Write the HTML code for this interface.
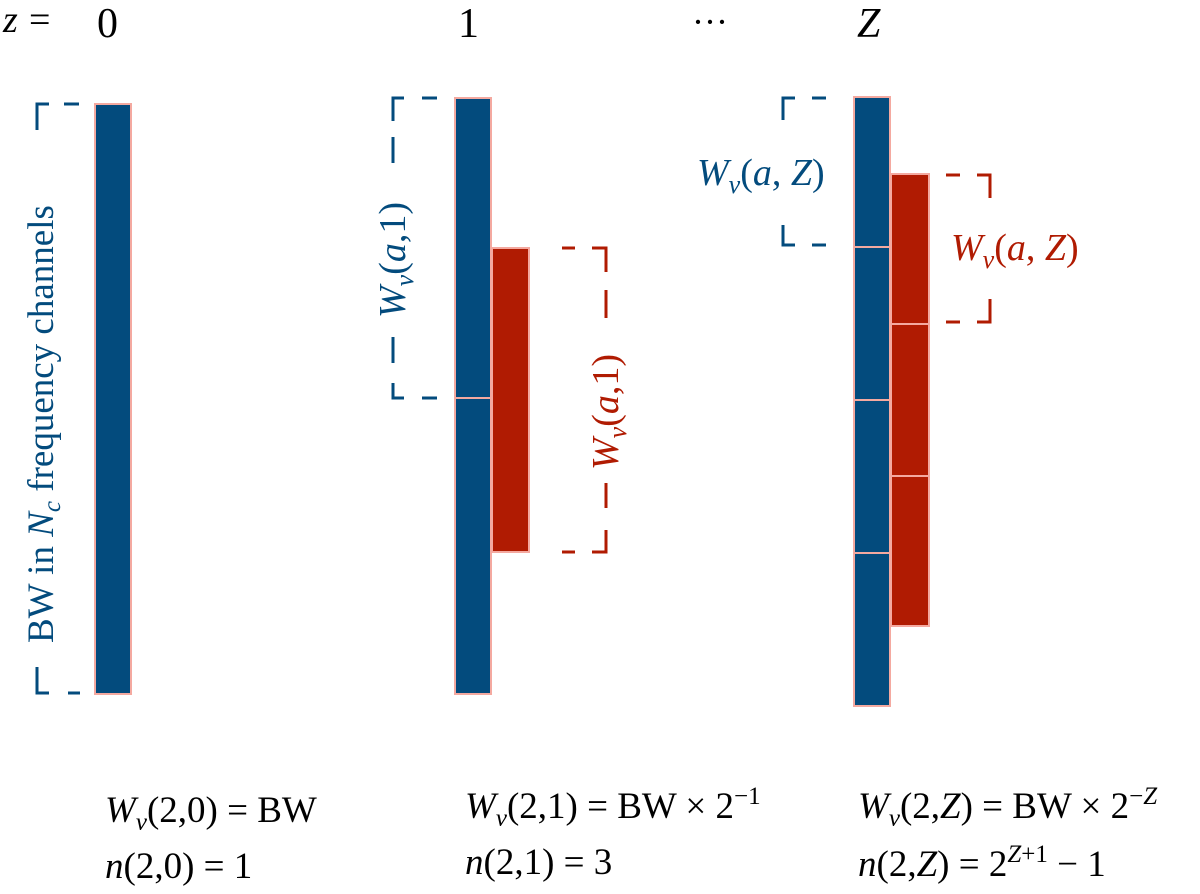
<!DOCTYPE html>
<html><head><style>
html,body{margin:0;padding:0;background:#fff;}
svg{display:block;}
text{font-family:"Liberation Serif",serif;}
</style></head><body>
<svg width="1200" height="894" viewBox="0 0 1200 894" xmlns="http://www.w3.org/2000/svg">
<text x="3" y="32" font-size="38" font-style="italic">z</text>
<text x="29" y="32" font-size="38">=</text>
<text x="97" y="37" font-size="42">0</text>
<text x="458" y="37" font-size="42">1</text>
<text x="692" y="34" font-size="36">···</text>
<text x="857" y="37" font-size="42" font-style="italic">Z</text>

<g stroke="#f4a9a0" stroke-width="2">
<rect x="95" y="104" width="36" height="590" fill="#034b7d"/>
<rect x="455" y="98" width="36" height="300" fill="#034b7d"/>
<rect x="455" y="398" width="36" height="296" fill="#034b7d"/>
<rect x="492" y="248" width="37" height="304" fill="#b01b02"/>
<rect x="854" y="97" width="36" height="150" fill="#034b7d"/>
<rect x="854" y="247" width="36" height="153" fill="#034b7d"/>
<rect x="854" y="400" width="36" height="153" fill="#034b7d"/>
<rect x="854" y="553" width="36" height="153" fill="#034b7d"/>
<rect x="891" y="174" width="38" height="150" fill="#b01b02"/>
<rect x="891" y="324" width="38" height="152" fill="#b01b02"/>
<rect x="891" y="476" width="38" height="150" fill="#b01b02"/>
</g>

<g fill="none" stroke-width="3">
<g stroke="#034b7d">
<path d="M49,104 H37 V130"/><path d="M64,104 H79"/>
<path d="M49,693 H37 V667"/><path d="M68,693 H80"/>
<path d="M404,98 H393 V121"/><path d="M422,98 H437"/>
<path d="M393,137 V163"/><path d="M393,337 V363"/>
<path d="M404,398 H393 V383"/><path d="M422,398 H437"/>
<path d="M795,98 H783 V120"/><path d="M812,98 H826"/>
<path d="M795,245 H783 V225"/><path d="M812,245 H826"/>
</g>
<g stroke="#b01b02">
<path d="M562,248 H575"/><path d="M592,248 H606 V272"/>
<path d="M606,290 V318"/><path d="M606,483 V508"/>
<path d="M562,552 H575"/><path d="M592,552 H606 V530"/>
<path d="M946,175 H960"/><path d="M977,175 H990 V198"/>
<path d="M946,322 H960"/><path d="M977,322 H990 V299"/>
</g>
</g>

<text transform="translate(53,643) rotate(-90)" font-size="37" fill="#034b7d">BW in <tspan font-style="italic">N</tspan><tspan font-style="italic" font-size="25" dy="7">c</tspan><tspan dy="-7"> frequency channels</tspan></text>

<text transform="translate(405,318) rotate(-90)" font-size="38" fill="#034b7d"><tspan font-style="italic">W</tspan><tspan font-style="italic" font-size="26" dy="8">ν</tspan><tspan dy="-8">(</tspan><tspan font-style="italic">a</tspan>,1)</text>

<text transform="translate(618,470) rotate(-90)" font-size="38" fill="#b01b02"><tspan font-style="italic">W</tspan><tspan font-style="italic" font-size="26" dy="8">ν</tspan><tspan dy="-8">(</tspan><tspan font-style="italic">a</tspan>,1)</text>

<text x="697" y="185" font-size="38" fill="#034b7d"><tspan font-style="italic">W</tspan><tspan font-style="italic" font-size="26" dy="8">ν</tspan><tspan dy="-8">(</tspan><tspan font-style="italic">a</tspan>, <tspan font-style="italic">Z</tspan>)</text>

<text x="951" y="260" font-size="38" fill="#b01b02"><tspan font-style="italic">W</tspan><tspan font-style="italic" font-size="26" dy="8">ν</tspan><tspan dy="-8">(</tspan><tspan font-style="italic">a</tspan>, <tspan font-style="italic">Z</tspan>)</text>

<g font-size="37" fill="#000">
<text x="105" y="822"><tspan font-style="italic">W</tspan><tspan font-style="italic" font-size="25" dy="8">ν</tspan><tspan dy="-8">(2,0) = BW</tspan></text>
<text x="105" y="878"><tspan font-style="italic">n</tspan>(2,0) = 1</text>
<text x="465" y="818"><tspan font-style="italic">W</tspan><tspan font-style="italic" font-size="25" dy="8">ν</tspan><tspan dy="-8">(2,1) = BW × 2</tspan><tspan font-size="25" dy="-14">−1</tspan></text>
<text x="465" y="874"><tspan font-style="italic">n</tspan>(2,1) = 3</text>
<text x="858" y="818"><tspan font-style="italic">W</tspan><tspan font-style="italic" font-size="25" dy="8">ν</tspan><tspan dy="-8">(2,</tspan><tspan font-style="italic">Z</tspan>) = BW × 2<tspan font-size="25" dy="-14">−</tspan><tspan font-size="25" font-style="italic">Z</tspan></text>
<text x="858" y="876"><tspan font-style="italic">n</tspan>(2,<tspan font-style="italic">Z</tspan>) = 2<tspan font-size="25" dy="-14" font-style="italic">Z</tspan><tspan font-size="25">+1</tspan><tspan dy="14"> − 1</tspan></text>
</g>
</svg>
</body></html>
